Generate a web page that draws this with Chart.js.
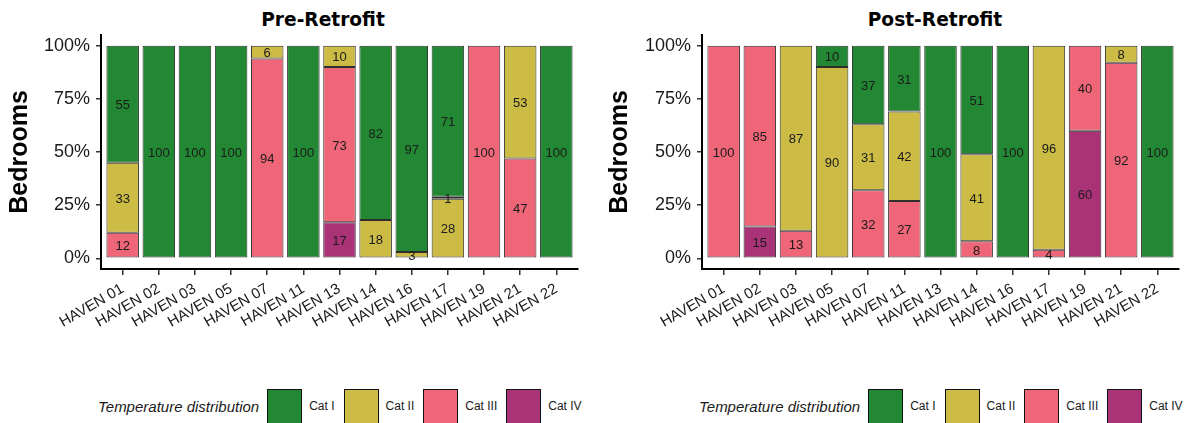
<!DOCTYPE html>
<html>
<head>
<meta charset="utf-8">
<script src="https://cdn.jsdelivr.net/npm/chart.js@4.4.1/dist/chart.umd.min.js"></script>
<style>
  html, body { margin: 0; padding: 0; background: #fff; }
  body { width: 1194px; height: 423px; overflow: hidden; position: relative; font-family: "Liberation Sans", Arial, sans-serif; }
  canvas { position: absolute; top: 0; }
  .title { position: absolute; top: 11px; font: bold 18.6px "DejaVu Sans", sans-serif; line-height: 1; color: #000; transform: translateX(-50%); white-space: nowrap; }
  .legend { position: absolute; top: 389px; height: 34px; display: flex; align-items: center; white-space: nowrap; }
  .legend .lt { font-style: italic; font-size: 15px; color: #1a1a1a; margin-right: 8px; }
  .legend .key { width: 33px; height: 36px; border: 1px solid #111; align-self: flex-start; }
  .legend .lab { font-size: 12px; color: #1a1a1a; margin-left: 7px; margin-right: 9px; }
</style>
</head>
<body>
<div class="title" style="left:323px">Pre-Retrofit</div>
<div class="title" style="left:935px">Post-Retrofit</div>
<canvas id="pre" width="597" height="380" style="left:0"></canvas>
<canvas id="post" width="594" height="380" style="left:600px"></canvas>
<div class="legend" id="legPre" style="left:98px"></div>
<div class="legend" id="legPost" style="left:699px"></div>
<script>
// Buildings on the category axis
const categories = ['HAVEN 01', 'HAVEN 02', 'HAVEN 03', 'HAVEN 05', 'HAVEN 07', 'HAVEN 11', 'HAVEN 13',
                    'HAVEN 14', 'HAVEN 16', 'HAVEN 17', 'HAVEN 19', 'HAVEN 21', 'HAVEN 22'];
const yTicks = [0, 25, 50, 75, 100];
const seriesNames = ['Cat I', 'Cat II', 'Cat III', 'Cat IV'];
const seriesColors = ['#228833', '#CCBB44', '#EE6677', '#AA3377'];

// Pre-retrofit share of bedrooms (%) per temperature category
const preCatI   = [55, 100, 100, 100, null, 100, null, 82, 97, 71, null, null, 100];
const preCatII  = [33, null, null, null, 6, null, 10, 18, 3, 28, null, 53, null];
const preCatIIb = [null, null, null, null, null, null, null, null, null, 1, null, null, null];
const preCatIII = [12, null, null, null, 94, null, 73, null, null, null, 100, 47, null];
const preCatIV  = [null, null, null, null, null, null, 17, null, null, null, null, null, null];

// Post-retrofit share of bedrooms (%) per temperature category
const postCatI   = [null, null, null, 10, 37, 31, 100, 51, 100, null, null, null, 100];
const postCatII  = [null, null, 87, 90, 31, 42, null, 41, null, 96, null, 8, null];
const postCatIII = [100, 85, 13, null, 32, 27, null, 8, null, 4, 40, 92, null];
const postCatIV  = [null, 15, null, null, null, null, null, null, null, null, 60, null, null];

const FONT = '"Liberation Sans", Arial, sans-serif';

function points(values) {
  return values.map((v, i) => ({ x: i, y: v }));
}

function makeDataset(label, values, color) {
  return {
    label,
    data: points(values),
    backgroundColor: color,
    borderColor: '#2e2e2e',
    borderWidth: 1,
    borderSkipped: false,
    barPercentage: 0.9,
    categoryPercentage: 1.0
  };
}

// Writes each segment's value in the middle of the segment
const valueLabels = {
  id: 'valueLabels',
  afterDatasetsDraw(chart) {
    const ctx = chart.ctx;
    ctx.save();
    ctx.font = '13px ' + FONT;
    ctx.fillStyle = '#1a1a1a';
    ctx.textAlign = 'center';
    ctx.textBaseline = 'middle';
    chart.data.datasets.forEach((ds, di) => {
      const meta = chart.getDatasetMeta(di);
      meta.data.forEach((bar, i) => {
        const v = ds.data[i].y;
        if (v === null) return;
        const p = bar.getProps(['x', 'y', 'base'], true);
        ctx.fillText(String(v), p.x, (p.y + p.base) / 2 + 1.5);
      });
    });
    ctx.restore();
  }
};

function makeChart(id, datasets, plotLeft, rightPad) {
  return new Chart(document.getElementById(id), {
    type: 'bar',
    data: { datasets },
    plugins: [valueLabels],
    options: {
      responsive: false,
      animation: false,
      layout: { padding: { top: 35, right: rightPad, left: 0, bottom: 0 } },
      plugins: { legend: { display: false }, tooltip: { enabled: false }, title: { display: false } },
      scales: {
        x: {
          type: 'linear',
          stacked: true,
          offset: false,
          min: -0.6,
          max: categories.length - 0.4,
          afterBuildTicks: (scale) => { scale.ticks = categories.map((_, i) => ({ value: i })); },
          afterFit: (scale) => { scale.height = 380 - 269; },
          ticks: {
            autoSkip: false,
            minRotation: 30,
            maxRotation: 30,
            padding: 5,
            color: '#1a1a1a',
            font: { family: FONT, size: 15 },
            callback: (v) => categories[v]
          },
          grid: { display: true, offset: false, drawOnChartArea: false, drawTicks: true, tickLength: 6, color: '#333333', lineWidth: 1.5 },
          border: { display: true, color: '#000000', width: 2 }
        },
        y: {
          stacked: true,
          min: -5,
          max: 105,
          afterBuildTicks: (scale) => { scale.ticks = yTicks.map(v => ({ value: v })); },
          afterFit: (scale) => { scale.width = plotLeft; },
          ticks: {
            padding: 6,
            color: '#1a1a1a',
            font: { family: FONT, size: 18 },
            callback: (v) => v + '%'
          },
          title: {
            display: true,
            text: 'Bedrooms',
            color: '#000000',
            font: { family: FONT, size: 25, weight: 'bold', lineHeight: 1.2 },
            padding: { top: 5, bottom: 0 }
          },
          grid: { display: true, drawOnChartArea: false, drawTicks: true, tickLength: 5, color: '#333333', lineWidth: 1.5 },
          border: { display: true, color: '#000000', width: 2 }
        }
      }
    }
  });
}

// Stacked bottom to top: Cat IV, Cat III, Cat II, Cat I
makeChart('pre', [
  makeDataset('Cat IV', preCatIV, seriesColors[3]),
  makeDataset('Cat III', preCatIII, seriesColors[2]),
  makeDataset('Cat II', preCatII, seriesColors[1]),
  makeDataset('Cat II', preCatIIb, seriesColors[1]),
  makeDataset('Cat I', preCatI, seriesColors[0])
], 101, 597 - 578);

makeChart('post', [
  makeDataset('Cat IV', postCatIV, seriesColors[3]),
  makeDataset('Cat III', postCatIII, seriesColors[2]),
  makeDataset('Cat II', postCatII, seriesColors[1]),
  makeDataset('Cat I', postCatI, seriesColors[0])
], 102, 594 - 579);

// Shared legend under each panel
function buildLegend(id) {
  const el = document.getElementById(id);
  const t = document.createElement('span');
  t.className = 'lt';
  t.textContent = 'Temperature distribution';
  el.appendChild(t);
  seriesNames.forEach((name, i) => {
    const k = document.createElement('span');
    k.className = 'key';
    k.style.background = seriesColors[i];
    el.appendChild(k);
    const l = document.createElement('span');
    l.className = 'lab';
    l.textContent = name;
    el.appendChild(l);
  });
}
buildLegend('legPre');
buildLegend('legPost');
</script>
</body>
</html>
